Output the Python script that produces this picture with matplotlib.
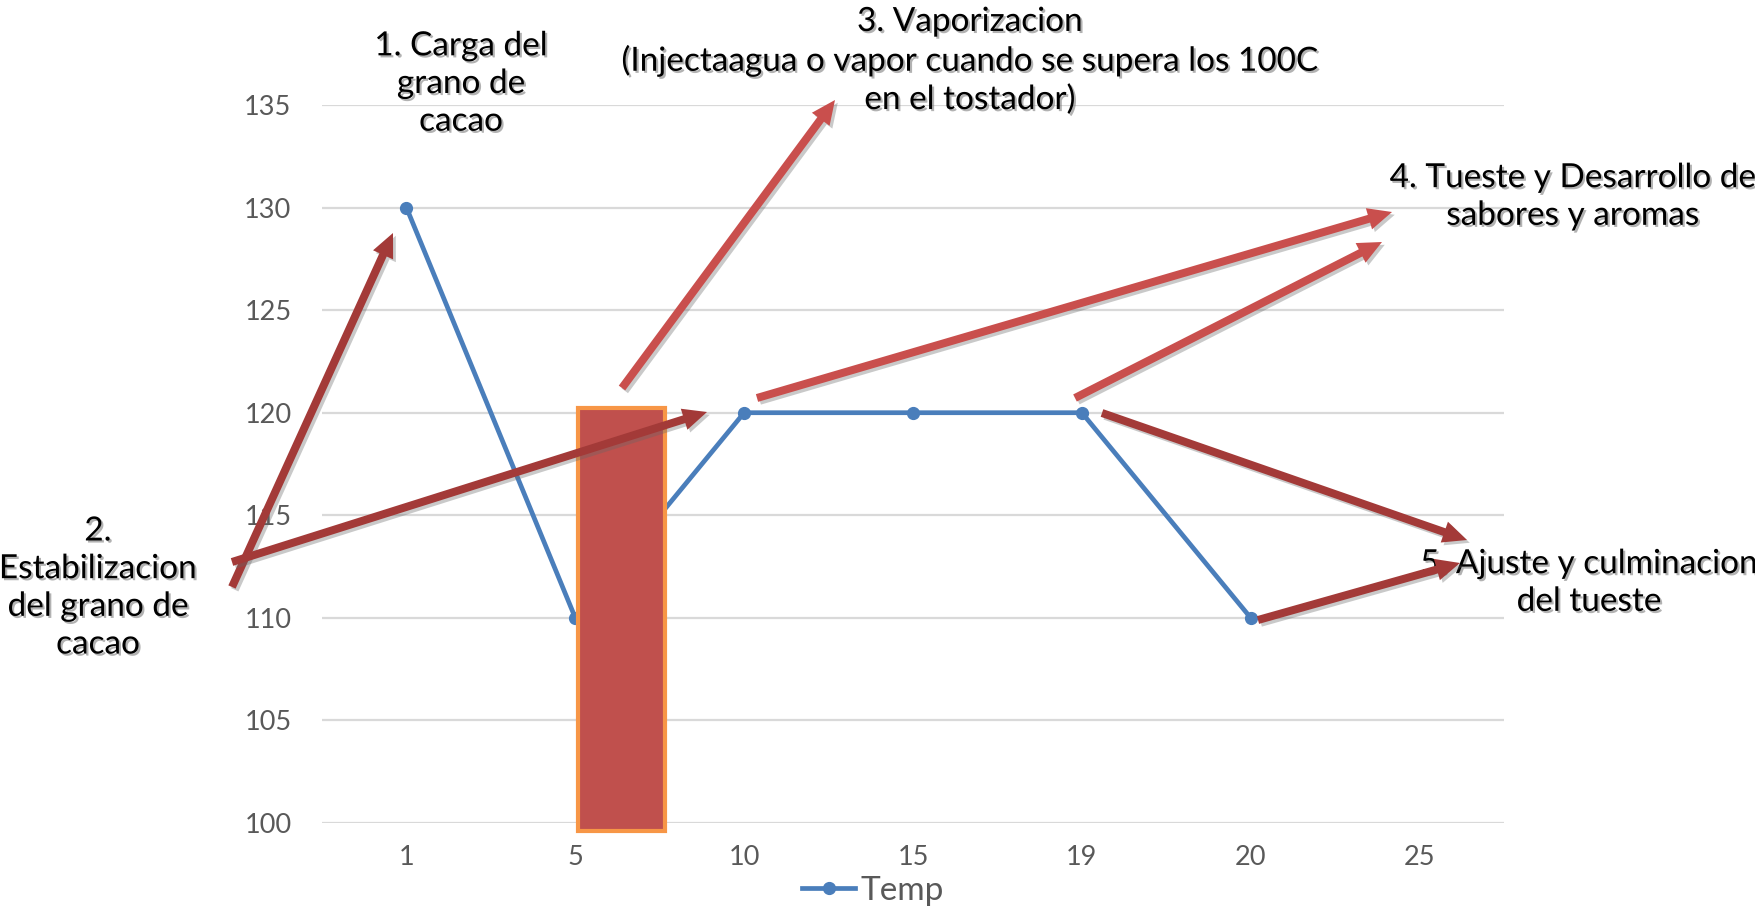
import numpy as np
import matplotlib
matplotlib.use("Agg")
import matplotlib.pyplot as plt
from matplotlib.patches import Rectangle, FancyArrow
from matplotlib.transforms import IdentityTransform
from matplotlib.lines import Line2D
import matplotlib.patheffects as pe

# ---------------- data ----------------
categories = ['1', '5', '10', '15', '19', '20', '25']
temp = [130, 110, 120, 120, 120, 110, np.nan]
series_name = 'Temp'
y_ticks = [100, 105, 110, 115, 120, 125, 130, 135]

# highlighted block (category units, value units)
block_x = [1.017, 1.532]
block_y = [99.6, 120.24]

# annotation texts
label1 = "1. Carga del\ngrano de\ncacao"
label2 = "2.\nEstabilizacion\ndel grano de\ncacao"
label3 = "3. Vaporizacion\n(Injectaagua o vapor cuando se supera los 100C\nen el tostador)"
label4 = "4. Tueste y Desarrollo de\nsabores y aromas"
label5 = "5. Ajuste y culminacion\ndel tueste"

# ---------------- layout ----------------
W, H = 1755, 909
DPI = 100
plt.rcParams['font.family'] = ['Lato', 'DejaVu Sans']

fig = plt.figure(figsize=(W / DPI, H / DPI), dpi=DPI)
fig.patch.set_facecolor('white')
ax = fig.add_axes([322 / W, 1 - 823 / H, 1182 / W, (823 - 105) / H])

x = np.arange(len(categories))
ax.plot(x, temp, color='#4A7EBB', lw=3.4, marker='o', markersize=8.5,
        zorder=3, clip_on=False, label=series_name)

ax.set_xlim(-0.5, len(categories) - 0.5)
ax.set_ylim(y_ticks[0], y_ticks[-1])
ax.set_xticks(x)
ax.set_xticklabels(categories)
ax.set_yticks(y_ticks)
ax.tick_params(axis='both', length=0, labelsize=19.5, labelcolor='#595959')
ax.tick_params(axis='x', pad=16)
ax.tick_params(axis='y', pad=22)
ax.grid(axis='y', color='#D9D9D9', lw=1.6)
ax.set_axisbelow(True)
for s in ax.spines.values():
    s.set_visible(False)

# highlighted rectangle
rect = Rectangle((block_x[0], block_y[0]), block_x[1] - block_x[0], block_y[1] - block_y[0],
                 facecolor='#C0504D', edgecolor='#F79646', lw=3.0, zorder=4, clip_on=False)
ax.add_patch(rect)

# legend
leg_handle = Line2D([0], [0], color='#4A7EBB', lw=3.4, marker='o', markersize=8.5)
fig.legend([leg_handle], [series_name], loc='center', bbox_to_anchor=(873 / W, 1 - 891 / H),
           frameon=False, fontsize=24, labelcolor='#595959', handlelength=1.6,
           handletextpad=0.15, borderpad=0)

# arrows (figure pixel positions, top-origin)
DARK = '#A33A38'
LIGHT = '#C94F4D'
arrows = [
    ((232, 587), (393, 233), DARK),
    ((232, 562), (707, 412), DARK),
    ((622, 388), (835, 100), LIGHT),
    ((757, 398), (1392, 212), LIGHT),
    ((1075, 398), (1382, 242), LIGHT),
    ((1102, 413), (1467, 540), DARK),
    ((1258, 620), (1460, 563), DARK),
]
shadow = [pe.SimplePatchShadow(offset=(2, -2), shadow_rgbFace='0.4', alpha=0.35), pe.Normal()]
for (x0, y0), (x1, y1), c in arrows:
    a = FancyArrow(x0, H - y0, x1 - x0, -(y1 - y0), width=8, head_width=22, head_length=24,
                   length_includes_head=True, transform=IdentityTransform(),
                   facecolor=c, edgecolor='none', zorder=6)
    a.set_path_effects(shadow)
    fig.add_artist(a)

# text annotations
tshadow = [pe.withSimplePatchShadow(offset=(1.5, -1.5), shadow_rgbFace='0.45', alpha=0.55)]
texts = [
    (label1, 461, 84),
    (label2, 98, 588),
    (label3, 970, 61),
    (label4, 1573, 197),
    (label5, 1589, 583),
]
for t, tx, ty in texts:
    fig.text(tx / W, 1 - ty / H, t, ha='center', va='center', multialignment='center',
             fontsize=24, color='black', linespacing=1.32, path_effects=tshadow, zorder=5)

fig.savefig('out.png', dpi=DPI, facecolor='white')
